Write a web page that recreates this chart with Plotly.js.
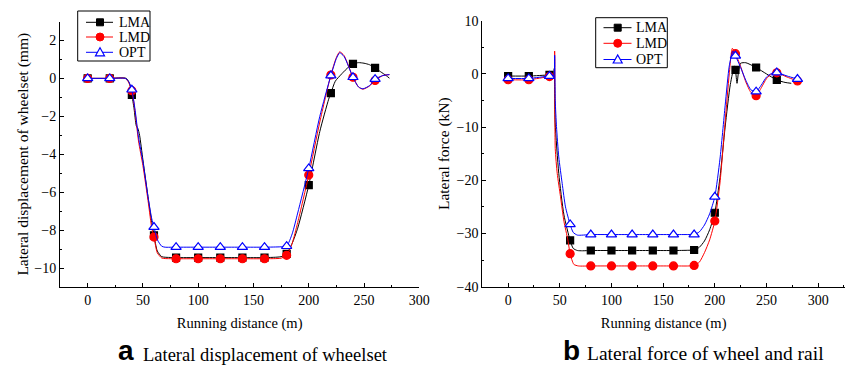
<!DOCTYPE html>
<html><head><meta charset="utf-8">
<script src="https://cdn.plot.ly/plotly-3.0.1.min.js"></script>
<style>html,body{margin:0;padding:0;background:#fff}#chart{width:845px;height:366px}</style>
</head><body><div id="chart"></div><script>
// (a) Lateral displacement of wheelset (mm) vs running distance (m)
var dispX_LMA = [0,20,35,38,40,42,44,45.5,47,50,55,58,60,63,67,70,80,100,120,140,160,175,180,185,190,200,210,218,220,224,230,236,240,245,250,255,260,265,270,273];
var dispY_LMA = [0,0,0,-0.3,-0.87,-1.6,-2.5,-2.65,-3.0,-4.3,-6.4,-7.6,-8.28,-9.1,-9.4,-9.43,-9.45,-9.45,-9.45,-9.45,-9.45,-9.4,-9.25,-8.7,-7.9,-5.63,-2.8,-1.1,-0.78,-0.15,0.25,0.6,0.77,0.83,0.8,0.72,0.55,0.35,0.15,0.01];
var dispX_LMD = [0,20,34,37,40,43,46,50,55,58,60,63,67,70,80,100,120,140,160,175,180,185,190,200,210,220,225,228,232,240,245,249,255,260,267,273];
var dispY_LMD = [0,0,0,-0.2,-0.65,-1.8,-3.3,-4.6,-6.6,-7.9,-8.37,-9.2,-9.47,-9.5,-9.51,-9.51,-9.51,-9.51,-9.51,-9.48,-9.33,-8.7,-7.6,-5.1,-2.3,0.18,1.1,1.4,1.2,0.06,-0.45,-0.57,-0.4,-0.11,0.15,0.2];
var dispX_OPT = [0,20,34,37,40,43,46,50,55,58,60,63,67,70,80,100,120,140,160,175,180,185,190,200,210,220,225,228,232,240,245,249,255,260,267,273];
var dispY_OPT = [0,0,0,-0.15,-0.6,-1.7,-3.1,-4.4,-6.4,-7.4,-7.84,-8.5,-8.85,-8.9,-8.9,-8.9,-8.9,-8.9,-8.9,-8.88,-8.85,-8.2,-7.1,-4.75,-2.0,0.15,1.05,1.35,1.15,0.06,-0.45,-0.55,-0.38,-0.04,0.15,0.2];

// (b) Lateral force of wheel and rail (kN) vs running distance (m)
var forceX_LMA = [0,20,40,44,44.6,45,45.5,49,54,60,63,67,72,80,100,120,140,160,175,180,185,190,195,200,205,210,215,219,220,221.5,223,225,230,240,250,260,268,274];
var forceY_LMA = [-0.4,-0.4,-0.2,-0.2,1.0,-2.4,-9.2,-18.7,-26.5,-31.3,-32.8,-33.2,-33.25,-33.2,-33.2,-33.2,-33.2,-33.2,-33.15,-33.1,-32.6,-31.4,-29.3,-26.1,-19.5,-10,-2,1.5,0.74,-1.77,0.5,2.0,2.1,1.2,0,-1.15,-1.6,-1.77];
var forceX_LMD = [0,20,40,44,45,45.6,47.5,50.7,54,57.8,60,63.6,68,80,100,120,140,160,175,180,185,190,195,200,205,210,214,217,220,225,230,235,240,245,250,255,260,270,280];
var forceY_LMD = [-1.1,-1.1,-0.5,-0.5,4.3,-14,-18.7,-23.1,-27.7,-31.2,-33.8,-35.8,-36.1,-36.1,-36.1,-36.1,-36.1,-36.1,-36.1,-36.0,-35.4,-33.6,-31.2,-27.65,-20.5,-9,0,4.8,3.8,1.4,-1.5,-3.5,-4.1,-2.6,-0.9,0,0.2,-0.6,-1.33];
var forceX_OPT = [0,20,40,44,45,45.6,46.8,49,52.3,55.5,60,63,67,80,100,120,140,160,175,180,185,190,195,200,205,210,214,217.5,220,225,230,235,240,245,250,255,260,270,280];
var forceY_OPT = [-0.85,-0.85,-0.4,-0.4,3.5,-5,-9.9,-15.6,-20.6,-25,-28.3,-29.8,-30.3,-30.2,-30.2,-30.2,-30.2,-30.2,-30.2,-30.2,-29.7,-28.4,-26.3,-23.1,-16,-6,1.5,4.3,3.4,1.2,-1.2,-3.0,-3.35,-2.1,-0.6,0.1,0.25,-0.4,-0.97];

var seriesNames = ['LMA','LMD','OPT'];
var xTicks = [0,50,100,150,200,250,300];

var SERIF = 'Liberation Serif';
var SANS = 'Liberation Sans';
var W = 845, H = 366;
function PX(px){ return px / W; }
function PY(py){ return 1 - py / H; }

function markerIdx(xs){ var out=[]; xs.forEach(function(x,i){ if(x % 20 === 0) out.push(i); }); return out; }
var styles = [
  {color:'#000000', symbol:'square', size:7, fill:'#000000'},
  {color:'#ff0000', symbol:'circle', size:8, fill:'#ff0000'},
  {color:'#0000ff', symbol:'triangle-up', size:9, fill:'#ffffff'}
];
function series(i, xs, ys, xa, ya){
  var s = styles[i];
  return {type:'scatter', mode:'lines+markers', name:seriesNames[i], x:xs, y:ys, xaxis:xa, yaxis:ya, showlegend:false,
    line:{color:s.color, width:1, shape:'spline', smoothing:0.6},
    marker:{symbol:s.symbol, size:s.size, color:s.fill, line:{color:s.color, width:1.2}},
    selectedpoints: markerIdx(xs), selected:{marker:{opacity:1}}, unselected:{marker:{opacity:0}},
    hoverinfo:'skip', cliponaxis:false};
}
var data = [
  series(0, dispX_LMA, dispY_LMA, 'x', 'y'),
  series(1, dispX_LMD, dispY_LMD, 'x', 'y'),
  series(2, dispX_OPT, dispY_OPT, 'x', 'y'),
  series(0, forceX_LMA, forceY_LMA, 'x2', 'y2'),
  series(1, forceX_LMD, forceY_LMD, 'x2', 'y2'),
  series(2, forceX_OPT, forceY_OPT, 'x2', 'y2')
];

// hand-drawn legend boxes (layout decoration, in paper coordinates)
var shapes = [], annotations = [];
function legendBox(box, lineX0, lineX1, markX, textX, rowsY){
  shapes.push({type:'rect', xref:'paper', yref:'paper', x0:PX(box[0]), x1:PX(box[1]), y0:PY(box[2]), y1:PY(box[3]),
    line:{color:'#000', width:1}, fillcolor:'#fff', layer:'above'});
  rowsY.forEach(function(y, i){
    var s = styles[i];
    shapes.push({type:'line', xref:'paper', yref:'paper', x0:PX(lineX0), x1:PX(lineX1), y0:PY(y), y1:PY(y),
      line:{color:s.color, width:1}, layer:'above'});
    if (s.symbol === 'square') {
      shapes.push({type:'rect', xref:'paper', yref:'paper', x0:PX(markX-3.5), x1:PX(markX+3.5), y0:PY(y-3.5), y1:PY(y+3.5),
        line:{color:s.color, width:1}, fillcolor:s.fill, layer:'above'});
    } else if (s.symbol === 'circle') {
      shapes.push({type:'circle', xref:'paper', yref:'paper', x0:PX(markX-4), x1:PX(markX+4), y0:PY(y-4), y1:PY(y+4),
        line:{color:s.color, width:1}, fillcolor:s.fill, layer:'above'});
    } else {
      var p = 'M'+PX(markX-4.5)+','+PY(y+3.5)+' L'+PX(markX+4.5)+','+PY(y+3.5)+' L'+PX(markX)+','+PY(y-4.5)+' Z';
      shapes.push({type:'path', xref:'paper', yref:'paper', path:p, line:{color:s.color, width:1.2}, fillcolor:s.fill, layer:'above'});
    }
    annotations.push({xref:'paper', yref:'paper', x:PX(textX), y:PY(y), xanchor:'left', yanchor:'middle', showarrow:false,
      text:seriesNames[i], font:{family:SERIF, size:14, color:'#000'}});
  });
}
legendBox([77.7,150,11,61], 86, 113, 100, 117, [22.3,37,52.3]);
legendBox([595.7,667.3,17.7,67.7], 603.5, 631.5, 617.7, 633.5, [27.7,43.3,59.5]);

// captions
annotations.push({xref:'paper', yref:'paper', x:PX(136), y:PY(350), xanchor:'right', yanchor:'middle', showarrow:false,
  text:'<b>a</b>', font:{family:SANS, size:28, color:'#000'}});
annotations.push({xref:'paper', yref:'paper', x:PX(141), y:PY(354.5), xanchor:'left', yanchor:'middle', showarrow:false,
  text:'Lateral displacement of wheelset', font:{family:SERIF, size:18.5, color:'#000'}});
annotations.push({xref:'paper', yref:'paper', x:PX(582), y:PY(350), xanchor:'right', yanchor:'middle', showarrow:false,
  text:'<b>b</b>', font:{family:SANS, size:28, color:'#000'}});
annotations.push({xref:'paper', yref:'paper', x:PX(585), y:PY(353.5), xanchor:'left', yanchor:'middle', showarrow:false,
  text:'Lateral force of wheel and rail', font:{family:SERIF, size:19.5, color:'#000'}});

function axis(extra){
  var a = {showline:true, linecolor:'#000', linewidth:1, mirror:false, ticks:'inside', ticklen:4, tickwidth:1, tickcolor:'#000',
    showgrid:false, zeroline:false, automargin:false,
    tickfont:{family:SERIF, size:14, color:'#000'}};
  for (var k in extra) a[k] = extra[k];
  return a;
}
var layout = {
  width:W, height:H, margin:{l:0,r:0,t:0,b:0}, paper_bgcolor:'#fff', plot_bgcolor:'#fff',
  font:{family:SERIF, color:'#000'},
  showlegend:false,
  xaxis: axis({domain:[PX(60), PX(419.3)], range:[-25,300], anchor:'y', tickvals:xTicks,
    minor:{ticks:'inside', ticklen:2, dtick:25, tickcolor:'#000'},
    title:{text:'Running distance (m)', font:{family:SERIF, size:14.5}, standoff:11}}),
  yaxis: axis({domain:[PY(287), PY(21.5)], range:[-11,3], anchor:'x', dtick:2, tick0:0,
    minor:{ticks:'inside', ticklen:2, dtick:1, tickcolor:'#000'},
    title:{text:'Lateral displacement of wheelset (mm)', font:{family:SERIF, size:15.5}, standoff:1}}),
  xaxis2: axis({domain:[PX(482.3), 1], range:[-25,326], anchor:'y2', tickvals:xTicks,
    minor:{ticks:'inside', ticklen:2, dtick:25, tickcolor:'#000'},
    title:{text:'Running distance (m)', font:{family:SERIF, size:14.5}, standoff:11}}),
  yaxis2: axis({domain:[PY(286.7), PY(20.7)], range:[-40,10], anchor:'x2', dtick:10, tick0:0,
    minor:{ticks:'inside', ticklen:2, dtick:5, tickcolor:'#000'},
    title:{text:'Lateral force (kN)', font:{family:SERIF, size:15.5}, standoff:3}}),
  shapes: shapes,
  annotations: annotations
};
Plotly.newPlot('chart', data, layout, {staticPlot:true, displayModeBar:false});
</script></body></html>
